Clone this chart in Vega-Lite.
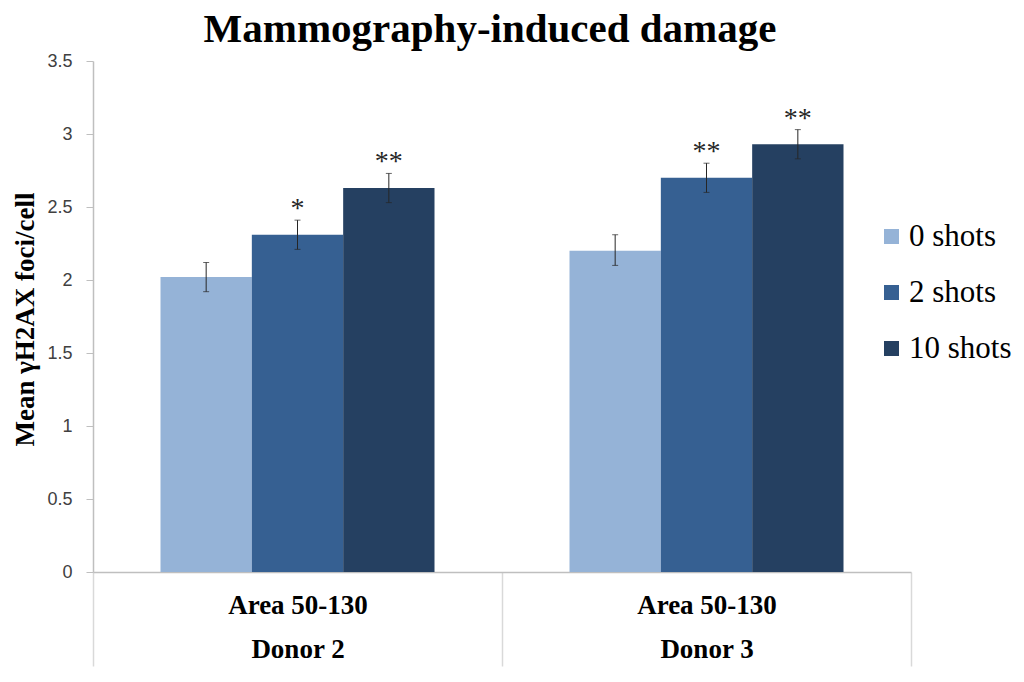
{
  "$schema": "https://vega.github.io/schema/vega-lite/v6.json",
  "autosize": {"type": "none"},
  "padding": {"left": 93, "top": 61, "right": 113, "bottom": 110},
  "width": 818,
  "height": 511,
  "background": "white",
  "title": {
    "text": "Mammography-induced damage",
    "font": "Liberation Serif",
    "fontSize": 41,
    "fontWeight": "bold",
    "color": "black",
    "anchor": "middle",
    "dx": -12,
    "offset": 1
  },
  "data": {
    "values": [
      {"donor": "Area 50-130|Donor 2", "shots": "0 shots", "mean": 2.02, "lo": 1.92, "hi": 2.12, "sig": ""},
      {"donor": "Area 50-130|Donor 2", "shots": "2 shots", "mean": 2.31, "lo": 2.21, "hi": 2.41, "sig": "*"},
      {"donor": "Area 50-130|Donor 2", "shots": "10 shots", "mean": 2.63, "lo": 2.53, "hi": 2.73, "sig": "**"},
      {"donor": "Area 50-130|Donor 3", "shots": "0 shots", "mean": 2.2, "lo": 2.1, "hi": 2.31, "sig": ""},
      {"donor": "Area 50-130|Donor 3", "shots": "2 shots", "mean": 2.7, "lo": 2.6, "hi": 2.8, "sig": "**"},
      {"donor": "Area 50-130|Donor 3", "shots": "10 shots", "mean": 2.93, "lo": 2.83, "hi": 3.03, "sig": "**"}
    ]
  },
  "encoding": {
    "x": {
      "field": "donor",
      "type": "nominal",
      "sort": null,
      "scale": {"paddingInner": 0, "paddingOuter": 0},
      "axis": {
        "title": null,
        "labelAngle": 0,
        "labelExpr": "split(datum.label, '|')",
        "labelFont": "Liberation Serif",
        "labelFontSize": 27,
        "labelFontWeight": "bold",
        "labelColor": "black",
        "labelLineHeight": 44,
        "labelBaseline": "alphabetic",
        "labelPadding": -53,
        "domainColor": "#bfbfbf",
        "domainWidth": 1.5,
        "tickBand": "extent",
        "tickSize": 94,
        "tickColor": "#d9d9d9",
        "tickWidth": 1.5
      }
    },
    "xOffset": {
      "field": "shots",
      "type": "nominal",
      "sort": ["0 shots", "2 shots", "10 shots"],
      "scale": {"paddingInner": 0, "paddingOuter": 0.739}
    }
  },
  "layer": [
    {
      "mark": {"type": "bar", "opacity": 1},
      "encoding": {
        "y": {
          "field": "mean",
          "type": "quantitative",
          "scale": {"domain": [0, 3.5]},
          "axis": {
            "values": [0, 0.5, 1, 1.5, 2, 2.5, 3, 3.5],
            "format": "~g",
            "grid": false,
            "domainColor": "#bfbfbf",
            "domainWidth": 1.5,
            "tickColor": "#bfbfbf",
            "tickSize": 7,
            "labelFont": "Liberation Sans",
            "labelFontSize": 18,
            "labelColor": "#404040",
            "labelPadding": 14,
            "title": "Mean  γH2AX foci/cell",
            "titleFont": "Liberation Serif",
            "titleFontSize": 27,
            "titleFontWeight": "bold",
            "titleColor": "black",
            "titleX": -68,
            "titleY": 258,
            "titleAlign": "center",
            "titleBaseline": "middle",
            "titleAngle": -90
          }
        },
        "color": {
          "field": "shots",
          "type": "nominal",
          "sort": ["0 shots", "2 shots", "10 shots"],
          "scale": {"domain": ["0 shots", "2 shots", "10 shots"], "range": ["#95b3d7", "#366092", "#254061"]},
          "legend": {
            "title": null,
            "orient": "none",
            "legendX": 783,
            "legendY": 160,
            "symbolType": "square",
            "symbolSize": 225,
            "symbolStrokeWidth": 0,
            "symbolOpacity": 1,
            "labelFont": "Liberation Serif",
            "labelFontSize": 31,
            "labelColor": "black",
            "labelOffset": 2,
            "rowPadding": 24
          }
        }
      }
    },
    {
      "mark": {"type": "rule", "color": "#262626", "strokeWidth": 1},
      "encoding": {
        "y": {"field": "lo", "type": "quantitative"},
        "y2": {"field": "hi"}
      }
    },
    {
      "mark": {"type": "tick", "color": "#262626", "size": 6, "thickness": 1},
      "encoding": {
        "y": {"field": "lo", "type": "quantitative"}
      }
    },
    {
      "mark": {"type": "tick", "color": "#262626", "size": 6, "thickness": 1},
      "encoding": {
        "y": {"field": "hi", "type": "quantitative"}
      }
    },
    {
      "mark": {"type": "text", "font": "Liberation Serif", "fontSize": 28, "baseline": "alphabetic", "dy": -3, "color": "#262626"},
      "encoding": {
        "y": {"field": "hi", "type": "quantitative"},
        "text": {"field": "sig"}
      }
    }
  ],
  "config": {"view": {"stroke": null}}
}
